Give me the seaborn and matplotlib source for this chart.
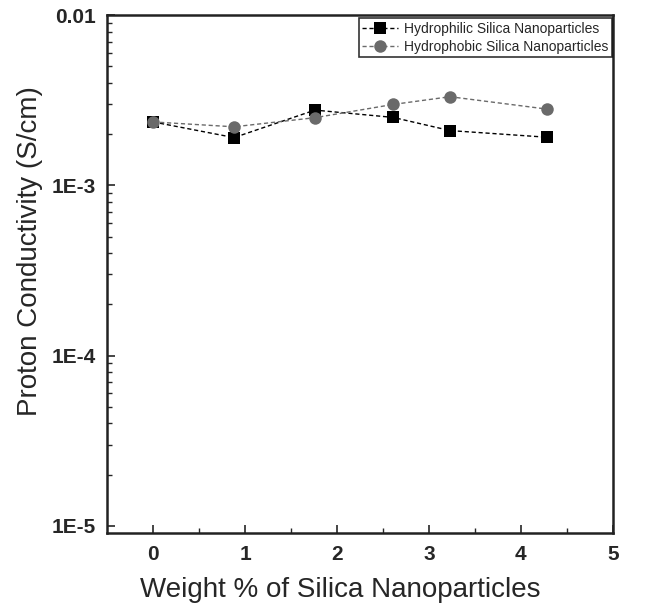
import matplotlib
matplotlib.use("Agg")
import matplotlib.pyplot as plt
import seaborn as sns
import pandas as pd
import numpy as np
from matplotlib.ticker import LogLocator, FixedLocator, NullFormatter

sns.set_theme(style="white")
plt.rcParams['font.family'] = ['Liberation Sans', 'DejaVu Sans']

x_philic = [0, 0.88, 1.76, 2.61, 3.23, 4.28]
y_philic = [2.36e-3, 1.91e-3, 2.77e-3, 2.51e-3, 2.10e-3, 1.92e-3]
x_phobic = [0, 0.88, 1.76, 2.61, 3.23, 4.28]
y_phobic = [2.36e-3, 2.21e-3, 2.50e-3, 2.99e-3, 3.32e-3, 2.81e-3]
labels = ["Hydrophilic Silica Nanoparticles", "Hydrophobic Silica Nanoparticles"]
x_ticks = [0, 1, 2, 3, 4, 5]
y_ticks = [1e-5, 1e-4, 1e-3, 1e-2]
y_ticklabels = ["1E-5", "1E-4", "1E-3", "0.01"]

df = pd.concat([
    pd.DataFrame({"x": x_philic, "y": y_philic, "series": labels[0]}),
    pd.DataFrame({"x": x_phobic, "y": y_phobic, "series": labels[1]}),
])

fig = plt.figure(figsize=(6.66, 6.07), dpi=100)
ax = fig.add_axes([0.161, 0.122, 0.759, 0.853])

sns.lineplot(data=df, x="x", y="y", hue="series", style="series",
             palette={labels[0]: "black", labels[1]: "#6a6a6a"},
             markers={labels[0]: "s", labels[1]: "o"},
             dashes={labels[0]: (3, 2), labels[1]: (3, 2)},
             markersize=9, markeredgewidth=0, linewidth=1, ax=ax, sort=False)

ax.set_yscale("log")
ax.set_ylim(9.1e-6, 1e-2)
ax.set_xlim(-0.5, 5)
ax.set_xticks(x_ticks)
ax.xaxis.set_minor_locator(FixedLocator([0.5, 1.5, 2.5, 3.5, 4.5]))
ax.set_yticks(y_ticks)
ax.set_yticklabels(y_ticklabels)
ax.yaxis.set_minor_locator(LogLocator(base=10, subs=np.arange(2, 10)))
ax.yaxis.set_minor_formatter(NullFormatter())

ax.tick_params(axis="both", which="major", direction="in", length=6, width=1.2,
               labelsize=15, left=True, bottom=True, right=False, top=False)
ax.tick_params(axis="y", which="major", pad=8)
ax.tick_params(axis="x", which="major", pad=9)
ax.tick_params(axis="both", which="minor", direction="in", length=3.5, width=1,
               left=True, bottom=True, right=False, top=False)
for lab in ax.get_xticklabels() + ax.get_yticklabels():
    lab.set_fontweight("bold")

for s in ax.spines.values():
    s.set_color("#222222")
    s.set_linewidth(1.8)

ax.set_xlabel("Weight % of Silica Nanoparticles", fontsize=20)
ax.set_ylabel("Proton Conductivity (S/cm)", fontsize=20)
ax.xaxis.set_label_coords(0.46, -0.085)
ax.yaxis.set_label_coords(-0.128, 0.545)

leg = ax.legend(loc="upper right", fontsize=10, frameon=True, fancybox=False,
                edgecolor="black", borderpad=0.25, handlelength=2.6,
                labelspacing=0.3, handletextpad=0.4, borderaxespad=0,
                bbox_to_anchor=(0.998, 0.994))
leg.get_frame().set_linewidth(1.2)

fig.savefig("out.png", dpi=100)
